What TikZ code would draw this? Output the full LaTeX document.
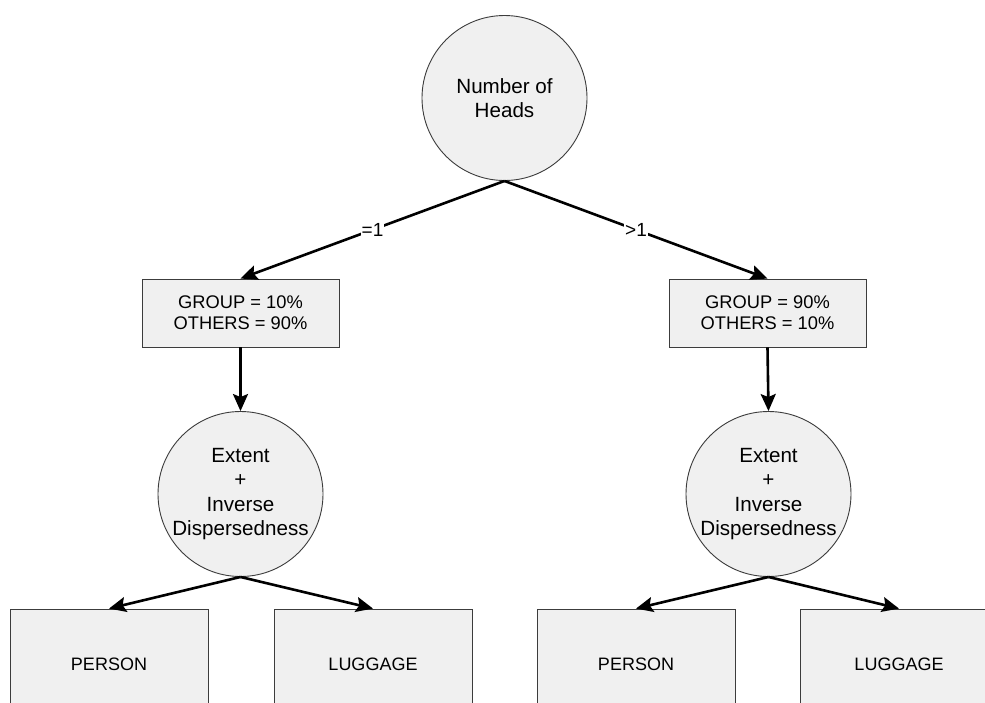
\documentclass[tikz,border=0pt]{standalone}
\usepackage{fontspec}
\setmainfont{Liberation Sans}
\usetikzlibrary{arrows.meta}
\definecolor{nodefill}{HTML}{F0F0F0}
\definecolor{nodeline}{HTML}{3C3C3C}
\tikzset{
  decision/.style={circle, draw=nodeline, line width=0.9pt, fill=nodefill,
    minimum size=165pt, inner sep=0pt, align=center,
    font=\fontsize{20.6}{24.6}\selectfont},
  probbox/.style={rectangle, draw=nodeline, line width=0.9pt, fill=nodefill,
    minimum width=197pt, minimum height=68pt, inner sep=0pt, align=center,
    font=\fontsize{18.3}{21}\selectfont},
  classbox/.style={rectangle, draw=nodeline, line width=0.9pt, fill=nodefill,
    minimum width=198pt, minimum height=110pt, inner sep=0pt, align=center,
    font=\fontsize{18}{21}\selectfont},
  flow/.style={line width=2.6pt, line cap=butt,
    -{Stealth[length=17pt,width=15pt,inset=3pt]}},
  branchlabel/.style={fill=white, inner sep=1pt, font=\fontsize{19}{22}\selectfont}
}
\begin{document}
\begin{tikzpicture}[x=1pt,y=-1pt]
  \clip (0,0) rectangle (985,702);
  \fill[white] (0,0) rectangle (985,702);

  % root decision
  \node[decision] (heads) at (504.5,98) {Number of\\Heads};

  % class probabilities per branch
  \node[probbox] (pl) at (240.5,313) {GROUP = 10\%\\OTHERS = 90\%};
  \node[probbox] (pr) at (767.5,313) {GROUP = 90\%\\OTHERS = 10\%};

  % second-level decisions
  \node[decision] (dl) at (240.5,494) {Extent\\+\\Inverse\\Dispersedness};
  \node[decision] (dr) at (768.5,494) {Extent\\+\\Inverse\\Dispersedness};

  % leaves
  \node[classbox] (lp) at (109,664) {PERSON};
  \node[classbox] (ll) at (373,664) {LUGGAGE};
  \node[classbox] (rp) at (636,664) {PERSON};
  \node[classbox] (rl) at (899,664) {LUGGAGE};

  % connectors
  \draw[flow] (heads.south) -- node[branchlabel] {=1} (pl.north);
  \draw[flow] (heads.south) -- node[branchlabel] {>1} (pr.north);
  \draw[flow] (pl.south) -- (dl.north);
  \draw[flow] (pr.south) -- (dr.north);
  \draw[flow] (dl.south) -- (lp.north);
  \draw[flow] (dl.south) -- (ll.north);
  \draw[flow] (dr.south) -- (rp.north);
  \draw[flow] (dr.south) -- (rl.north);
\end{tikzpicture}
\end{document}
